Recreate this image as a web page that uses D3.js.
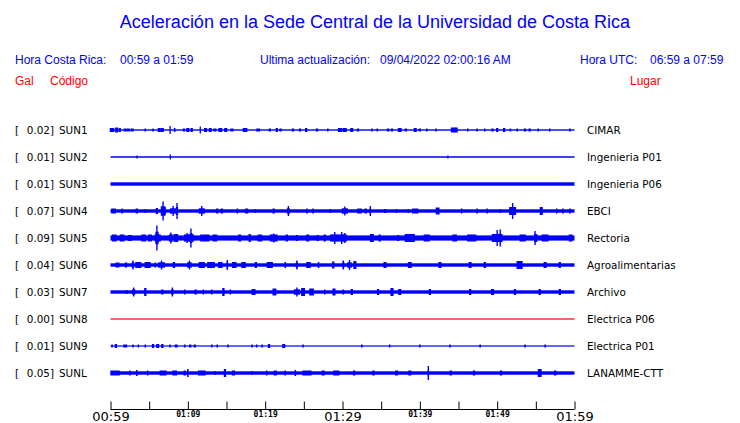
<!DOCTYPE html>
<html><head><meta charset="utf-8">
<script src="https://cdn.jsdelivr.net/npm/d3@7"></script>
<style>
html,body{margin:0;padding:0;background:#fff;}
svg{display:block;}
</style></head>
<body>
<svg id="chart" width="740" height="423"></svg>
<script>
// ---------- data ----------
const codes  = ["SUN1","SUN2","SUN3","SUN4","SUN5","SUN6","SUN7","SUN8","SUN9","SUNL"];
const peaks  = [0.02, 0.01, 0.01, 0.07, 0.09, 0.04, 0.03, 0.00, 0.01, 0.05];
const places = ["CIMAR","Ingenieria P01","Ingenieria P06","EBCI","Rectoria","Agroalimentarias","Archivo","Electrica P06","Electrica P01","LANAMME-CTT"];
// background noise half-amplitude of every trace (relative units)
const noiseLevel = [0.7, 0.75, 1.7, 1.7, 2.6, 1.7, 1.7, 0.6, 0.6, 1.7];
// bursts: [minutes after 00:59, half-amplitude, duration in minutes]
const sun1Events = [[0.2,2,0.6],[0.8,2.5,0.4],[1.2,2,0.3],[1.9,1.5,0.4],[2.3,1.5,0.4],[2.8,1.5,0.4],[4.5,1.5,0.2],[5.5,1.5,0.2],[6.3,2,0.4],[6.7,2,0.4],[7.7,4,0.15],[8.3,2,0.2],[9.5,1.5,0.3],[10.0,2,0.4],[10.5,2,0.3],[11.6,3.5,0.15],[12.3,2,0.4],[12.9,2,0.4],[13.5,1.5,0.4],[14.2,2,0.5],[14.9,2,0.4],[15.7,1.5,0.4],[17.4,2,0.6],[19.1,1.5,0.5],[20.6,1.5,0.3],[21.5,2,0.3],[22.0,1.5,0.3],[23.6,1.5,0.3],[24.5,1.5,0.3],[25.3,2,0.3],[26.7,1.5,0.3],[28.1,1.5,0.2],[29.7,2,0.6],[30.3,2,0.5],[31.2,2,0.4],[32.0,1.5,0.3],[33.8,1.5,0.2],[34.5,1.5,0.2],[35.9,1.5,0.3],[36.4,1.5,0.3],[37.4,2,0.5],[38.2,1.5,0.3],[39.4,2,0.4],[40.0,1.5,0.3],[40.9,1.5,0.2],[42.1,1.5,0.2],[44.3,2.5,0.6],[44.7,2.5,0.4],[46.2,1.5,0.2],[47.4,1.5,0.2],[48.4,1.5,0.2],[49.4,1.5,0.3],[50.0,2,0.3],[50.9,2,0.3],[51.7,1.5,0.2],[52.6,1.5,0.2],[53.6,1.5,0.3],[54.2,1.5,0.3],[55.3,1.5,0.2],[56.8,1.5,0.2],[59.4,1.5,0.2]];
const sun2Events = [[3.4,1.5,0.1],[7.7,2.5,0.1],[43.6,1.5,0.1]];
const sun3Events = [];
const sun4Events = [[0.4,2.5,0.6],[1.5,2.5,0.2],[3.4,2.5,0.3],[4.5,2,0.2],[6.0,3,0.3],[6.8,9.5,0.6],[7.0,4,0.3],[8.1,5,0.8],[8.6,8,0.3],[11.8,5,0.8],[13.8,2.5,0.3],[14.4,2.5,0.3],[16.4,2.5,0.2],[17.6,2.5,0.4],[18.7,2,0.2],[21.1,2.5,0.3],[23.0,5,0.4],[25.4,2.5,0.2],[26.2,2.5,0.2],[28.4,2,0.2],[30.3,4.5,0.8],[32.2,2.5,0.6],[33.0,2.5,0.3],[33.6,5,0.2],[35.5,2,0.3],[37.0,2,0.2],[38.5,2,0.2],[39.4,2.5,0.8],[42.3,3.5,0.5],[45.4,2.5,0.2],[47.4,2.5,0.2],[48.7,2.5,0.2],[50.4,2,0.2],[52.0,8,0.9],[55.7,4,0.4],[57.7,2.5,0.2],[58.5,2.5,0.2],[59.4,2.5,0.2]];
const sun5Events = [[0.5,3.5,0.6],[1.5,3.5,0.6],[2.5,3,0.5],[4.3,3.5,0.6],[5.1,3.5,0.5],[6.0,12.5,0.4],[6.1,6,0.8],[7.8,5.5,0.5],[8.3,4,0.3],[8.6,4,0.3],[9.9,5,0.8],[10.4,9.5,0.3],[10.5,5,0.6],[12.2,3.5,1.2],[13.5,3.5,0.6],[16.7,3.5,0.4],[18.0,4,0.3],[19.3,3.5,0.6],[21.1,4.5,1.0],[22.8,3.5,0.3],[24.1,3,0.3],[25.5,3.5,0.4],[26.8,3,0.3],[27.7,3.5,0.3],[29.0,6,1.2],[29.9,6,0.6],[30.3,5,0.5],[33.8,4,0.5],[34.8,3.5,0.3],[37.2,3,0.3],[38.7,4,1.3],[40.9,3.5,0.8],[44.5,3.5,0.6],[46.7,3.5,1.2],[50.0,8,1.4],[50.4,8.5,0.3],[53.3,3.5,0.8],[54.9,7,0.2],[55.0,4,0.4],[56.2,3.5,0.9],[59.5,3.5,0.5]];
const sun6Events = [[0.9,2.5,0.5],[2.0,2.5,0.3],[2.9,4.5,0.3],[3.6,3,0.8],[4.8,3,0.8],[5.8,2.5,0.2],[6.6,4.5,0.9],[8.2,3,0.3],[10.2,4.5,0.6],[11.8,3,0.8],[13.0,3,1.0],[14.2,3,0.6],[15.1,5,0.2],[16.0,3,0.6],[17.2,3,0.6],[18.8,3,0.3],[20.6,3,0.8],[22.6,3,0.2],[24.1,4.5,0.3],[25.6,3,0.6],[26.9,3,0.2],[28.8,3.5,0.3],[30.1,4.5,0.3],[30.9,5,0.6],[31.6,4,0.4],[35.5,3,0.4],[38.7,3,0.5],[42.6,3,0.4],[46.5,3,0.4],[48.4,3,0.3],[52.9,4,0.8],[56.2,3,0.4],[58.1,3,0.3]];
const sun7Events = [[2.1,2,0.2],[3.0,4.5,0.4],[4.5,4,0.3],[6.7,2.5,0.3],[8.0,4.5,0.3],[9.6,2.5,0.2],[11.0,2.5,0.3],[12.0,2.5,0.2],[13.1,2.5,0.2],[14.6,4,0.3],[15.5,2.5,0.2],[18.5,3,0.5],[21.2,3.5,0.5],[24.1,4.5,0.8],[24.9,4,0.5],[26.0,3.5,0.6],[27.7,2.5,0.2],[28.9,3.5,0.4],[30.1,2.5,0.2],[31.2,3,0.3],[34.6,3,0.3],[36.4,4,0.4],[37.4,3,0.4],[41.3,3,0.3],[46.5,3,0.3],[49.4,3,0.4],[52.3,3,0.3],[55.5,3,0.3],[58.1,3,0.3]];
const sun8Events = [];
const sun9Events = [[0.2,1.5,0.2],[0.7,2,0.3],[1.9,1.5,0.5],[2.9,1.5,0.2],[3.6,1.5,0.2],[4.5,1.5,0.2],[5.5,2,0.3],[6.1,2,0.4],[6.7,2,0.3],[7.7,1.5,0.2],[8.5,1.5,0.4],[9.6,1.5,0.2],[10.3,1.5,0.3],[10.9,1.5,0.3],[13.1,1.5,0.2],[13.8,1.5,0.2],[15.2,1.5,0.2],[18.3,1.5,0.2],[18.9,1.5,0.2],[19.6,1.5,0.2],[20.5,2,0.3],[22.4,2,0.4],[24.9,1.5,0.2],[32.5,1.5,0.2],[36.1,1.5,0.2],[40.0,1.5,0.2],[43.9,1.5,0.2],[47.8,1.5,0.2],[53.6,1.5,0.2],[56.2,1.5,0.2]];
const sunLEvents = [[0.6,2.5,1.2],[2.5,2.5,0.2],[3.4,3,0.2],[4.8,2.5,0.2],[6.8,2.5,0.9],[8.3,2.5,0.6],[9.6,2.5,0.3],[10.0,4,0.2],[11.8,2.5,1.0],[13.5,2,0.2],[14.8,4,0.3],[15.9,2.5,0.4],[18.3,2,0.2],[20.2,2.5,0.2],[21.3,2.5,0.4],[22.6,2.5,0.2],[23.9,3,0.2],[25.4,2.5,1.2],[27.5,2.5,0.4],[29.2,2.5,0.8],[31.5,2.5,0.3],[34.0,2.5,0.3],[37.0,2.5,0.4],[38.7,2.5,0.4],[41.1,7,0.15],[44.0,2.5,0.3],[47.0,2.5,0.3],[50.5,2.5,0.3],[55.5,4,0.5],[57.5,2.5,0.3]];
const stationEvents = [sun1Events,sun2Events,sun3Events,sun4Events,sun5Events,sun6Events,sun7Events,sun8Events,sun9Events,sunLEvents];
const tickMinutes = [0,5,10,15,20,25,30,35,40,45,50,55,60];
const majorTickLabels = ["00:59","01:29","01:59"];
const minorTickLabels = ["01:09","01:19","01:39","01:49"];

// ---------- drawing ----------
const svg = d3.select("#chart");
const BLUE = "#0000ff", RED = "#ff0000";
const start = new Date(2022, 8, 4, 0, 59);
const toDate = m => new Date(start.getTime() + m * 60000);

const x = d3.scaleTime().domain([start, toDate(60)]).range([110.5, 574.5]);
const y = d3.scaleBand().domain(codes).range([116.5, 386.5]).padding(0);
const a = d3.scaleLinear().domain([-13.5, 13.5]).range([13.5, -13.5]);

// header
svg.append("text").attr("x", 375).attr("y", 28).attr("text-anchor", "middle")
  .attr("font-family", "Liberation Sans, Arial, sans-serif").attr("font-size", 18)
  .attr("fill", BLUE).text("Aceleración en la Sede Central de la Universidad de Costa Rica");
const hdr = [
  [15, 64, "Hora Costa Rica:", BLUE],
  [120, 64, "00:59 a 01:59", BLUE],
  [260, 64, "Ultima actualización:", BLUE],
  [380, 64, "09/04/2022 02:00:16 AM", BLUE],
  [580, 64, "Hora UTC:", BLUE],
  [650, 64, "06:59 a 07:59", BLUE],
  [15, 85, "Gal", RED],
  [50, 85, "Código", RED],
  [630, 85, "Lugar", RED]
];
svg.selectAll("text.hdr").data(hdr).join("text").attr("class", "hdr")
  .attr("x", d => d[0]).attr("y", d => d[1]).attr("fill", d => d[3])
  .attr("font-family", "Liberation Sans, Arial, sans-serif").attr("font-size", 12)
  .text(d => d[2]);

// rows
const rows = svg.selectAll("g.row").data(codes).join("g").attr("class", "row")
  .attr("transform", d => `translate(0,${y(d) + y.bandwidth() / 2})`);

const lblFont = "DejaVu Sans, sans-serif";
rows.append("text").attr("x", 15).attr("y", 4).attr("font-family", lblFont).attr("font-size", 10.4).text("[");
rows.append("text").attr("x", 54).attr("y", 4).attr("text-anchor", "end").attr("font-family", lblFont).attr("font-size", 10.4)
  .text((d, i) => peaks[i].toFixed(2) + "]");
rows.append("text").attr("x", 59).attr("y", 4).attr("font-family", lblFont).attr("font-size", 10.4).text(d => d);
rows.append("text").attr("x", 587).attr("y", 4).attr("font-family", lblFont).attr("font-size", 10.4)
  .text((d, i) => places[i]);

rows.each(function (code, i) {
  const g = d3.select(this);
  const col = peaks[i] === 0 ? RED : BLUE;
  const base = noiseLevel[i];
  g.append("rect").attr("x", x(toDate(0))).attr("width", x(toDate(60)) - x(toDate(0)))
    .attr("y", a(base)).attr("height", a(-base) - a(base)).attr("fill", col);
  const ev = stationEvents[i];
  const body = d => d[1] > 4 ? Math.max(base + 1, d[1] * 0.5) : d[1];
  g.selectAll("rect.ev").data(ev).join("rect").attr("class", "ev")
    .attr("x", d => x(toDate(d[0] - d[2] / 2)))
    .attr("width", d => Math.max(1.3, x(toDate(d[0] + d[2] / 2)) - x(toDate(d[0] - d[2] / 2))))
    .attr("y", d => a(body(d)))
    .attr("height", d => a(-body(d)) - a(body(d)))
    .attr("fill", col);
  g.selectAll("line.sp").data(ev.filter(d => d[1] > 4)).join("line").attr("class", "sp")
    .attr("x1", d => x(toDate(d[0]))).attr("x2", d => x(toDate(d[0])))
    .attr("y1", d => a(d[1])).attr("y2", d => a(-d[1]))
    .attr("stroke", col).attr("stroke-width", 1.4);
});

// time axis
const axis = d3.axisBottom(x).tickValues(tickMinutes.map(toDate)).tickSize(-8).tickSizeOuter(0)
  .tickFormat(d3.timeFormat("%H:%M"));
const ax = svg.append("g").attr("transform", "translate(0,409.5)").call(axis);
ax.select(".domain").attr("stroke", "#000").attr("d", `M${x(toDate(0))},0H${x(toDate(60))}`);
ax.selectAll(".tick line").attr("stroke", "#000");
ax.selectAll(".tick text").each(function () {
  const t = d3.select(this), s = t.text();
  if (majorTickLabels.includes(s)) {
    t.attr("y", 11.5).attr("dy", 0).attr("font-family", "DejaVu Sans, sans-serif").attr("font-size", 13).attr("fill", "#000");
  } else if (minorTickLabels.includes(s)) {
    t.attr("y", 7).attr("dy", 0).attr("font-family", "DejaVu Sans Mono, monospace").attr("font-weight", "bold")
      .attr("font-size", 8).attr("fill", "#000");
  } else {
    t.remove();
  }
});
</script>
</body></html>
